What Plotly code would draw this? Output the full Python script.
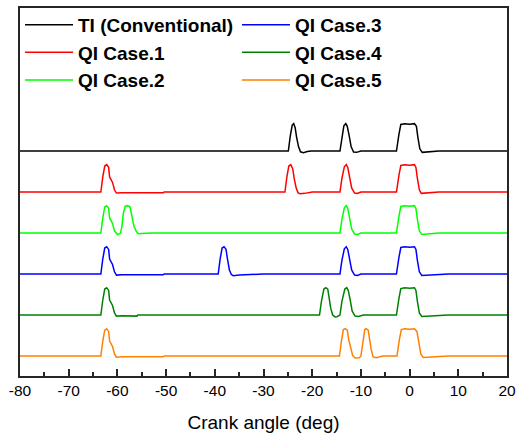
import plotly.graph_objects as go

# ---------------- data ----------------
names = ["TI (Conventional)", "QI Case.1", "QI Case.2", "QI Case.3", "QI Case.4", "QI Case.5"]
colors = ["#000000", "#ff0000", "#00ff00", "#0000ff", "#008000", "#ff8000"]
offsets = [7.5, 6.0, 4.5, 3.0, 1.5, 0.0]
legend_rank = [1, 3, 5, 2, 4, 6]

ti_x = [-80, -24.9, -24.5, -24.1, -23.8, -23.5, -23.2, -22.8, -22.4, -21.8, -21.0, -20.2,
        -14.3, -13.9, -13.5, -13.1, -12.8, -12.4, -12.0, -11.5, -10.9, -10.0,
        -2.7, -2.2, -1.8, -1.0, 0.0, 1.0, 1.4, 1.7, 2.1, 2.6, 3.5, 6.0, 20]
ti_y = [0, 0, 0.55, 0.95, 1.0, 0.85, 0.5, 0.15, -0.03, -0.06, -0.02, 0,
        0, 0.5, 0.92, 1.0, 0.9, 0.55, 0.15, -0.04, -0.05, 0,
        0, 0.6, 0.97, 1.0, 0.98, 1.0, 0.9, 0.5, 0.08, -0.05, -0.04, 0, 0]

c1_x = [-80, -63.4, -63.0, -62.6, -62.2, -61.8, -61.6, -61.3, -61.0, -60.6, -60.2, -59.0, -55.0, -50.6, -50.4,
        -25.6, -25.2, -24.8, -24.4, -24.0, -23.7, -23.3, -22.9, -22.5, -21.5, -20.0,
        -14.3, -13.9, -13.4, -13.0, -12.7, -12.3, -11.9, -11.3, -10.7, -10.0,
        -2.7, -2.2, -1.8, -1.0, 0.0, 1.0, 1.3, 1.6, 2.0, 2.4, 3.5, 6.0, 20]
c1_y = [0, 0, 0.55, 0.95, 1.0, 0.9, 0.55, 0.45, 0.35, 0.08, -0.04, -0.03, -0.04, -0.03, 0,
        0, 0.55, 0.95, 1.0, 0.85, 0.5, 0.15, -0.03, -0.06, -0.05, 0,
        0, 0.5, 0.92, 1.0, 0.9, 0.55, 0.15, -0.04, -0.05, 0,
        0, 0.6, 0.97, 1.0, 0.98, 1.0, 0.9, 0.5, 0.08, -0.05, -0.04, 0, 0]

c2_x = [-80, -63.4, -63.0, -62.6, -62.2, -61.8, -61.6, -61.3, -61.0, -60.6, -60.0, -59.4,
        -59.1, -58.8, -58.4, -57.9, -57.4, -57.0, -56.6, -56.1, -55.7, -55.0, -53.0,
        -14.3, -13.9, -13.4, -13.0, -12.7, -12.3, -11.9, -11.3, -10.7, -10.0,
        -2.7, -2.2, -1.8, -1.0, 0.0, 1.0, 1.3, 1.6, 2.0, 2.5, 3.5, 6.0, 20]
c2_y = [0, 0, 0.55, 0.95, 1.0, 0.9, 0.55, 0.45, 0.35, 0.08, -0.06, -0.02,
        0.2, 0.7, 0.98, 1.0, 0.95, 0.6, 0.25, 0.05, -0.03, -0.02, 0,
        0, 0.5, 0.92, 1.0, 0.9, 0.55, 0.15, -0.04, -0.05, 0,
        0, 0.6, 0.97, 1.0, 0.98, 1.0, 0.9, 0.5, 0.08, -0.05, -0.04, 0, 0]

c3_x = [-80, -63.4, -63.0, -62.6, -62.2, -61.8, -61.6, -61.3, -61.0, -60.6, -60.2, -59.0, -55.0, -50.6, -50.4,
        -39.3, -38.9, -38.5, -38.1, -37.7, -37.4, -37.0, -36.6, -36.2, -35.0, -30.0,
        -14.3, -13.9, -13.4, -13.0, -12.7, -12.3, -11.9, -11.3, -10.7, -10.0,
        -2.7, -2.2, -1.8, -1.0, 0.0, 1.0, 1.3, 1.6, 2.0, 2.5, 3.5, 8.0, 20]
c3_y = [0, 0, 0.55, 0.95, 1.0, 0.9, 0.55, 0.45, 0.35, 0.08, -0.04, -0.03, -0.04, -0.03, 0,
        0, 0.55, 0.95, 1.0, 0.9, 0.55, 0.15, -0.02, -0.06, -0.04, 0,
        0, 0.5, 0.92, 1.0, 0.9, 0.55, 0.15, -0.04, -0.05, 0,
        0, 0.6, 0.97, 1.0, 0.98, 1.0, 0.9, 0.5, 0.08, -0.05, -0.04, 0, 0]

c4_x = [-80, -63.4, -63.0, -62.6, -62.2, -61.8, -61.6, -61.3, -61.0, -60.6, -60.2, -59.0, -56.0, -55.8,
        -18.5, -18.1, -17.6, -17.2, -16.8, -16.5, -16.2, -15.8, -15.3, -14.9,
        -14.3, -13.9, -13.3, -12.9, -12.6, -12.2, -11.8, -11.2, -10.5, -9.5,
        -2.7, -2.2, -1.8, -1.0, 0.0, 1.0, 1.3, 1.6, 2.0, 2.5, 3.5, 8.0, 20]
c4_y = [0, 0, 0.55, 0.95, 1.0, 0.9, 0.55, 0.45, 0.35, 0.08, -0.04, -0.03, -0.04, 0,
        0, 0.5, 0.95, 1.0, 0.95, 0.6, 0.25, 0.0, -0.07, -0.06,
        0, 0.5, 0.95, 1.0, 0.9, 0.55, 0.15, -0.04, -0.05, 0,
        0, 0.6, 0.97, 1.0, 0.98, 1.0, 0.9, 0.5, 0.08, -0.05, -0.04, 0, 0]

c5_x = [-80, -63.4, -63.0, -62.6, -62.2, -61.8, -61.6, -61.3, -61.0, -60.6, -60.2, -59.0, -55.0, -50.6, -50.4,
        -14.4, -14.0, -13.6, -13.2, -12.8, -12.5, -12.1, -11.7, -11.2, -10.3,
        -10.0, -9.6, -9.2, -8.9, -8.5, -8.2, -7.9, -7.5, -6.8, -5.5,
        -2.6, -2.1, -1.7, -1.0, 0.0, 1.0, 1.5, 1.9, 2.3, 2.8, 3.5, 8.0, 20]
c5_y = [0, 0, 0.55, 0.95, 1.0, 0.9, 0.55, 0.45, 0.35, 0.08, -0.04, -0.03, -0.04, -0.03, 0,
        0, 0.55, 0.97, 1.0, 0.95, 0.6, 0.25, 0.02, -0.07, -0.06,
        0, 0.55, 0.97, 1.0, 0.95, 0.6, 0.25, -0.03, -0.06, 0,
        0, 0.6, 0.97, 1.0, 0.98, 1.0, 0.9, 0.5, 0.08, -0.05, -0.04, 0, 0]

xs = [ti_x, c1_x, c2_x, c3_x, c4_x, c5_x]
ys = [ti_y, c1_y, c2_y, c3_y, c4_y, c5_y]

x_ticks = [-80, -70, -60, -50, -40, -30, -20, -10, 0, 10, 20]
x_title = "Crank angle (deg)"

# ---------------- figure ----------------
fig = go.Figure()
for name, col, off, rank, x, y in zip(names, colors, offsets, legend_rank, xs, ys):
    fig.add_trace(go.Scatter(
        x=x, y=[v + off for v in y], mode="lines", name=name,
        line=dict(color=col, width=1.5), legendrank=rank,
    ))

axis_col = "#262626"
fig.update_layout(
    width=527, height=433,
    margin=dict(l=20, r=20, t=8, b=57, autoexpand=False),
    paper_bgcolor="white", plot_bgcolor="white",
    font=dict(family="Liberation Sans, Arial, sans-serif", color="black"),
    showlegend=True,
    legend=dict(
        orientation="h", x=0.0, y=1.006, xanchor="left", yanchor="top",
        bgcolor="rgba(0,0,0,0)", borderwidth=0,
        font=dict(size=19, family="Liberation Sans, Arial, sans-serif", color="black", weight="bold"),
        entrywidth=154, entrywidthmode="pixels", itemwidth=48,
        tracegroupgap=0,
    ),
    xaxis=dict(
        range=[-80, 20], tickvals=x_ticks, ticktext=[str(v) for v in x_ticks],
        ticks="inside", ticklen=7, tickwidth=1.5, tickcolor=axis_col,
        minor=dict(dtick=5, tick0=-80, ticks="inside", ticklen=4, tickwidth=1.5, tickcolor=axis_col),
        showline=True, linecolor=axis_col, linewidth=1.5, mirror=True,
        showgrid=False, zeroline=False, automargin=False,
        tickfont=dict(size=15.5),
        title=dict(text=x_title, font=dict(size=19), standoff=18),
    ),
    yaxis=dict(
        range=[-0.73, 12.73], showticklabels=False, ticks="",
        showline=True, linecolor=axis_col, linewidth=1.5, mirror=True,
        showgrid=False, zeroline=False, automargin=False,
    ),
)

fig.write_html("out.html")
